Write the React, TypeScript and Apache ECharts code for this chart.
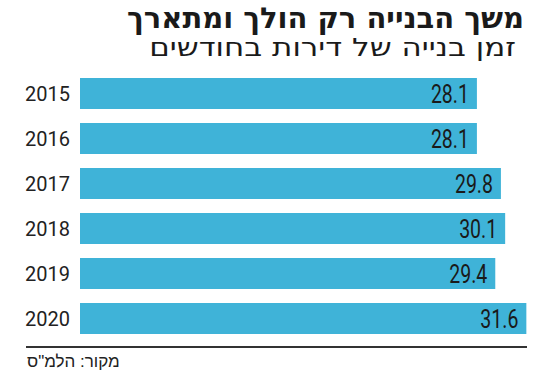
import React, { useEffect, useRef } from "react";
import * as echarts from "echarts";

const years = ["2015", "2016", "2017", "2018", "2019", "2020"];
const months = [28.1, 28.1, 29.8, 30.1, 29.4, 31.6];
const titleText = "משך הבנייה רק הולך ומתארך";
const subtitleText = "זמן בנייה של דירות בחודשים";
const sourceText = 'מקור: הלמ"ס';

export default function App() {
  const ref = useRef<HTMLDivElement>(null);
  useEffect(() => {
    if (!ref.current) return;
    const chart = echarts.init(ref.current, undefined, { renderer: "svg" });
    chart.setOption({
      animation: false,
      backgroundColor: "#ffffff",
      title: [
        {
          text: titleText,
          right: 26,
          top: 1,
          padding: [0, 0, 0, 0],
          textStyle: {
            fontFamily: "DejaVu Sans",
            fontWeight: "bold",
            fontSize: 29,
            lineHeight: 34,
            color: "#1a1a1a",
          },
        },
      ],
      grid: { left: 80, top: 71, width: 452, height: 270, containLabel: false },
      xAxis: {
        type: "value",
        min: 0,
        max: 32,
        show: false,
      },
      yAxis: {
        type: "category",
        data: years,
        inverse: true,
        axisLine: { show: false },
        axisTick: { show: false },
        splitLine: { show: false },
        axisLabel: {
          margin: 10,
          fontFamily: "Roboto",
          fontSize: 20,
          color: "#222222",
        },
      },
      series: [
        {
          type: "bar",
          data: months,
          barWidth: 31,
          itemStyle: { color: "#3fb3d8" },
        },
        {
          type: "custom",
          data: months.map((v, i) => [v, i]),
          encode: { x: 0, y: 1 },
          z: 5,
          renderItem: (params: any, api: any) => {
            const v = api.value(0);
            const pt = api.coord([v, api.value(1)]);
            return {
              type: "text",
              x: pt[0] - 8,
              y: pt[1] + 1,
              scaleX: 0.78,
              style: {
                text: Number(v).toFixed(1),
                align: "right",
                verticalAlign: "middle",
                fontFamily: "Roboto",
                fontSize: 25,
                fill: "#1a1a1a",
              },
            };
          },
        },
      ],
      graphic: [
        {
          type: "text",
          x: 516,
          y: 60,
          scaleX: 1.24,
          style: {
            text: subtitleText,
            align: "right",
            verticalAlign: "bottom",
            fontFamily: "DejaVu Sans",
            fontSize: 25,
            fill: "#1a1a1a",
          },
        },
        {
          type: "line",
          shape: { x1: 26, y1: 347, x2: 527, y2: 347 },
          style: { stroke: "#333333", lineWidth: 2 },
        },
        {
          type: "text",
          left: 27,
          top: 353,
          style: {
            text: sourceText,
            fontFamily: "Liberation Sans",
            fontSize: 17,
            fill: "#222222",
          },
        },
      ],
    });
    return () => chart.dispose();
  }, []);
  return (
    <div
      ref={ref}
      style={{ position: "fixed", left: 0, top: 0, width: 550, height: 377 }}
    />
  );
}
